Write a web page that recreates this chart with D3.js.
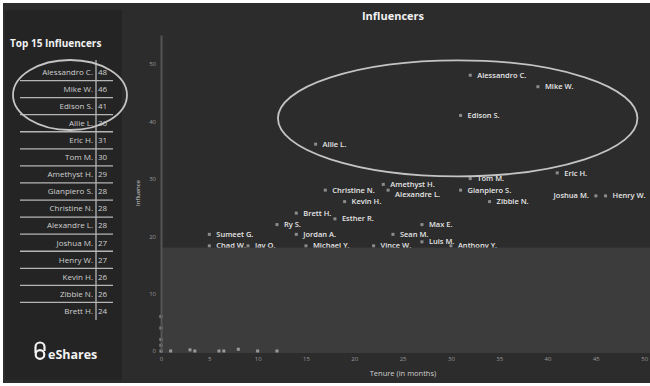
<!DOCTYPE html>
<html lang="en">
<head>
    <meta charset="UTF-8">
    <script src="https://cdn.jsdelivr.net/npm/d3@7"></script>
    <title>Influencers</title>
    <style>
        body { margin: 0; background: #fff; }
        text { font-family: "Open Sans", "Liberation Sans", sans-serif; }
    </style>
</head>
<body>
    <svg width="650" height="386"></svg>

    <script>
        // top 15 table
        const topNames = ['Alessandro C.', 'Mike W.', 'Edison S.', 'Allie L.', 'Eric H.', 'Tom M.', 'Amethyst H.',
            'Gianpiero S.', 'Christine N.', 'Alexandre L.', 'Joshua M.', 'Henry W.', 'Kevin H.', 'Zibbie N.', 'Brett H.'];
        const topScores = [48, 46, 41, 36, 31, 30, 29, 28, 28, 28, 27, 27, 26, 26, 24];

        // labelled points (tenure in months, influence)
        const names = ['Alessandro C.', 'Mike W.', 'Edison S.', 'Allie L.', 'Eric H.', 'Tom M.', 'Amethyst H.',
            'Alexandre L.', 'Christine N.', 'Gianpiero S.', 'Zibbie N.', 'Joshua M.', 'Henry W.', 'Kevin H.',
            'Brett H.', 'Esther R.', 'Ry S.', 'Max E.', 'Sumeet G.', 'Jordan A.', 'Sean M.', 'Luis M.',
            'Chad W.', 'Jay O.', 'Michael Y.', 'Vince W.', 'Anthony Y.'];
        const tenure = [32, 39, 31, 16, 41, 32, 23, 23.5, 17, 31, 34, 45, 46, 19, 14, 18, 12, 27, 5, 14, 24, 27, 5, 9, 15, 22, 30];
        const influence = [48, 46, 41, 36, 31, 30, 29, 28, 28, 28, 26, 27, 27, 26, 24, 23, 22, 22, 20.3, 20.3, 20.3, 19, 18.3, 18.3, 18.3, 18.3, 18.3];
        const leftLabels = ['Joshua M.'];
        const lowerLabels = ['Alexandre L.'];

        // unlabelled points near the origin
        const lowTenure = [0, 0, 0, 0, 0, 1, 3, 3.5, 6, 6.5, 8, 10, 12];
        const lowInfluence = [6, 4, 2, 1, 0, 0, 0.2, 0, 0, 0, 0.3, 0, 0];

        const xTicks = [0, 5, 10, 15, 20, 25, 30, 35, 40, 45, 50];
        const yTicks = [0, 10, 20, 30, 40, 50];
        const fadeBelow = 18; // lower band drawn lighter

        const svg = d3.select('svg');

        // dark frame
        svg.append('rect').attr('x', 3).attr('y', 3).attr('width', 647).attr('height', 380).attr('fill', '#2c2c2c');
        // left panel
        svg.append('rect').attr('x', 5).attr('y', 10).attr('width', 117).attr('height', 370).attr('fill', '#242424');

        svg.append('text').attr('x', 10).attr('y', 47)
            .attr('fill', '#f2f2f2').attr('font-size', 10).attr('font-weight', 700)
            .text('Top 15 Influencers');

        const rowY = d3.scaleLinear().domain([0, topNames.length - 1]).range([72, 311]);

        const table = svg.append('g');
        table.selectAll('line.row')
            .data(topNames.slice(0, -1))
            .enter().append('line')
            .attr('class', 'row')
            .attr('x1', 20).attr('x2', 113)
            .attr('y1', (d, i) => rowY(i + 0.5)).attr('y2', (d, i) => rowY(i + 0.5))
            .attr('stroke', '#b5b5b5').attr('stroke-width', 1.3);
        table.append('line')
            .attr('x1', 96).attr('x2', 96).attr('y1', 60).attr('y2', 320)
            .attr('stroke', '#b5b5b5').attr('stroke-width', 1.3);
        table.selectAll('text.name')
            .data(topNames)
            .enter().append('text')
            .attr('class', 'name')
            .attr('x', 93).attr('y', (d, i) => rowY(i)).attr('dy', '0.35em')
            .attr('text-anchor', 'end').attr('font-size', 8).attr('fill', '#d0d0d0')
            .text(d => d);
        table.selectAll('text.score')
            .data(topScores)
            .enter().append('text')
            .attr('class', 'score')
            .attr('x', 98).attr('y', (d, i) => rowY(i)).attr('dy', '0.35em')
            .attr('font-size', 8).attr('fill', '#d0d0d0')
            .text(d => d);

        // circle around the top 4 in the table
        svg.append('ellipse')
            .attr('cx', 70).attr('cy', 95).attr('rx', 57).attr('ry', 35)
            .attr('fill', 'none').attr('stroke', '#c4c4c4').attr('stroke-width', 1.8);

        // logo
        const logo = svg.append('g');
        logo.append('path')
            .attr('d', 'M35.5,353 L35.5,347 A4.5,4.5 0 0 1 44.5,347 L44.5,351')
            .attr('fill', 'none').attr('stroke', '#f2f2f2').attr('stroke-width', 2.2);
        logo.append('circle').attr('cx', 40).attr('cy', 354.5).attr('r', 4.3)
            .attr('fill', 'none').attr('stroke', '#f2f2f2').attr('stroke-width', 2.2);
        logo.append('text').attr('x', 48).attr('y', 358.5)
            .attr('fill', '#f2f2f2').attr('font-size', 12.5).attr('font-weight', 700)
            .text('eShares');

        // scatter
        const x = d3.scaleLinear().domain([0, 50.6]).range([161, 650]);
        const y = d3.scaleLinear().domain([0, 55]).range([351, 35]);

        svg.append('text').attr('x', 393).attr('y', 20)
            .attr('text-anchor', 'middle').attr('fill', '#f2f2f2')
            .attr('font-size', 11).attr('font-weight', 700)
            .text('Influencers');

        const points = names.map((d, i) => ({ name: d, t: tenure[i], v: influence[i] }));

        const pts = svg.append('g');
        pts.selectAll('rect')
            .data(points)
            .enter().append('rect')
            .attr('x', d => x(d.t) - 1.5).attr('y', d => y(d.v) - 1.5)
            .attr('width', 3).attr('height', 3)
            .attr('fill', '#8c8c8c');
        pts.selectAll('text')
            .data(points)
            .enter().append('text')
            .attr('x', d => leftLabels.includes(d.name) ? x(d.t) - 7 : x(d.t) + 7)
            .attr('y', d => lowerLabels.includes(d.name) ? y(d.v) + 4 : y(d.v)).attr('dy', '0.35em')
            .attr('text-anchor', d => leftLabels.includes(d.name) ? 'end' : 'start')
            .attr('font-size', 7.5).attr('font-weight', 600).attr('fill', '#e6e6e6')
            .text(d => d.name);

        // lighter band at the bottom
        svg.append('rect')
            .attr('x', x(0) + 1).attr('y', y(fadeBelow))
            .attr('width', 650 - x(0) - 1).attr('height', y(0) - y(fadeBelow) + 2)
            .attr('fill', '#3c3c3c');

        svg.append('g').selectAll('rect')
            .data(lowTenure)
            .enter().append('rect')
            .attr('x', (d, i) => x(d) - 1.5).attr('y', (d, i) => y(lowInfluence[i]) - 1.5)
            .attr('width', 3).attr('height', 3)
            .attr('fill', '#9a9a9a');

        // ellipse around the top influencers
        svg.append('ellipse')
            .attr('cx', x(30.7)).attr('cy', y(40.5))
            .attr('rx', x(30.7 + 18.6) - x(30.7)).attr('ry', y(40.5) - y(50.6))
            .attr('fill', 'none').attr('stroke', '#c4c4c4').attr('stroke-width', 1.8);

        // axes
        const yAxis = svg.append('g')
            .attr('transform', `translate(${x(0)},0)`)
            .call(d3.axisLeft(y).tickValues(yTicks).tickSize(0).tickPadding(5));
        yAxis.select('.domain').attr('stroke', '#555').attr('stroke-width', 2);
        yAxis.selectAll('text').attr('fill', '#9a9a9a').attr('font-size', 6);

        const xAxis = svg.append('g')
            .attr('transform', `translate(0,${y(0)})`)
            .call(d3.axisBottom(x).tickValues(xTicks).tickSize(0).tickPadding(6));
        xAxis.select('.domain').remove();
        xAxis.selectAll('text').attr('fill', '#9a9a9a').attr('font-size', 6);

        svg.append('text')
            .attr('x', 403).attr('y', 376)
            .attr('text-anchor', 'middle').attr('fill', '#cfcfcf').attr('font-size', 7.5)
            .text('Tenure (in months)');
        svg.append('text')
            .attr('transform', 'translate(140,193) rotate(-90)')
            .attr('text-anchor', 'middle').attr('fill', '#cfcfcf').attr('font-size', 6)
            .text('Influence');
    </script>
</body>
</html>
